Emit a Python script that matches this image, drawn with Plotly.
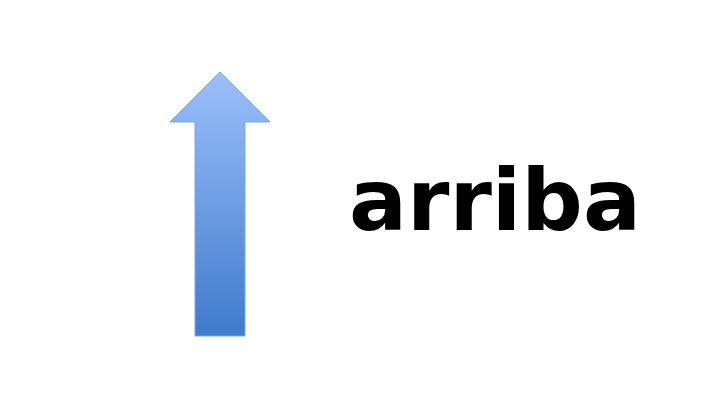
import plotly.graph_objects as go

# arrow outline (image pixel space, y grows downward)
arrow_x = [195, 245, 245, 270, 220, 170, 195, 195]
arrow_y = [336, 336, 122, 122, 72, 122, 122, 336]

label = "arriba"
label_x = 495
label_y = 200

fig = go.Figure()
fig.add_trace(go.Scatter(
    x=arrow_x, y=arrow_y, mode="lines", fill="toself",
    line=dict(color="#7fa6dc", width=1),
    fillgradient=dict(type="vertical",
                      colorscale=[[0, "#3f7bcb"], [1, "#9cc0fb"]]),
    hoverinfo="skip", showlegend=False,
))
fig.add_annotation(x=label_x, y=label_y, text="<b>" + label + "</b>", showarrow=False,
                   font=dict(family="Comic Sans MS, DejaVu Sans", size=86, color="black"))

fig.update_xaxes(range=[8, 728], visible=False)
fig.update_yaxes(range=[413, 8], visible=False)
fig.update_layout(width=720, height=405, margin=dict(l=0, r=0, t=0, b=0),
                  plot_bgcolor="white", paper_bgcolor="white")
fig.write_html("out.html")
